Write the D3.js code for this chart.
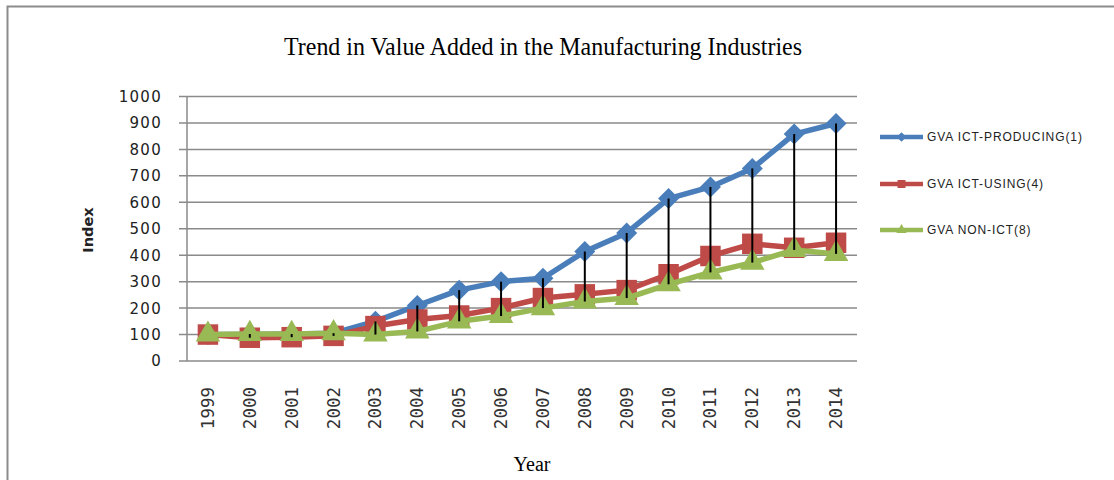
<!DOCTYPE html>
<html><head><meta charset="utf-8">
<script src="https://cdn.jsdelivr.net/npm/d3@7"></script>
<style>body{margin:0;background:#fff;}svg{display:block;}</style>
</head><body>
<svg id="chart" width="1114" height="480"></svg>
<script>
const years = ["1999","2000","2001","2002","2003","2004","2005","2006","2007","2008","2009","2010","2011","2012","2013","2014"];
const ictProducing = [100, 100, 102, 105, 150, 210, 268, 300, 313, 414, 484, 614, 658, 728, 858, 898];
const ictUsing     = [100,  88,  90,  95, 132, 157, 172, 200, 238, 252, 268, 328, 397, 443, 428, 447];
const nonIct       = [100, 102, 102, 105, 100, 112, 150, 170, 200, 225, 238, 290, 335, 372, 420, 405];
const seriesNames = ["GVA ICT-PRODUCING(1)", "GVA ICT-USING(4)", "GVA NON-ICT(8)"];
const yTicks = [0,100,200,300,400,500,600,700,800,900,1000];

(function(){
const colors = ["#4A7EBB", "#BE4B48", "#98B954"];
const symbols = [d3.symbolSquare, d3.symbolSquare, d3.symbolTriangle];
const rotations = [45, 0, 0];
const sizes = [220, 420, 260];
const series = [ictProducing, ictUsing, nonIct];

const svg = d3.select("#chart");
svg.append("path").attr("d","M7.5,480 V6.5 H1114").attr("fill","none").attr("stroke","#8c8c8c").attr("stroke-width",2);

const pL = 187, pR = 857, pT = 96.5, pB = 361;
const x = d3.scaleBand().domain(years).range([pL, pR]);
const y = d3.scaleLinear().domain([0, 1000]).range([pB, pT]);
const cx = d => x(d) + x.bandwidth()/2;

svg.append("g").selectAll("line").data(yTicks).join("line")
  .attr("x1", pL - 8).attr("x2", pR)
  .attr("y1", d => y(d)).attr("y2", d => y(d))
  .attr("stroke", "#8a8a8a").attr("stroke-width", 1.5);
svg.append("line").attr("x1", pL).attr("x2", pL).attr("y1", pT).attr("y2", pB)
  .attr("stroke", "#8a8a8a").attr("stroke-width", 1.5);

svg.append("g").selectAll("text").data(yTicks).join("text")
  .attr("x", 162).attr("y", d => y(d)).attr("dy", "0.36em")
  .attr("text-anchor", "end")
  .attr("font-family", "DejaVu Sans").attr("font-size", 15).attr("letter-spacing", 1.3)
  .attr("fill", "#222").text(d => d);

svg.append("g").selectAll("text").data(years).join("text")
  .attr("transform", d => `translate(${cx(d)+6},387) rotate(-90)`)
  .attr("text-anchor", "end")
  .attr("font-family", "DejaVu Sans Mono").attr("font-size", 17.5)
  .attr("fill", "#333").text(d => d);

const line = d3.line().x((d,i) => cx(years[i])).y(d => y(d));
series.forEach((s, k) => {
  svg.append("path").datum(s).attr("d", line).attr("fill", "none")
    .attr("stroke", colors[k]).attr("stroke-width", 5.5).attr("stroke-linejoin", "round");
  svg.append("g").selectAll("path").data(s).join("path")
    .attr("transform", (d,i) => `translate(${cx(years[i])},${y(d)}) rotate(${rotations[k]})`)
    .attr("d", d3.symbol().type(symbols[k]).size(sizes[k]))
    .attr("fill", colors[k]);
});

svg.append("g").selectAll("line").data(years).join("line")
  .attr("x1", d => cx(d)).attr("x2", d => cx(d))
  .attr("y1", (d,i) => y(Math.max(ictProducing[i], ictUsing[i], nonIct[i])))
  .attr("y2", (d,i) => y(Math.min(ictProducing[i], ictUsing[i], nonIct[i])))
  .attr("stroke", "#000").attr("stroke-width", 2);

const legY = [137, 184, 230];
seriesNames.forEach((n, k) => {
  svg.append("line").attr("x1", 880).attr("x2", 923).attr("y1", legY[k]).attr("y2", legY[k])
    .attr("stroke", colors[k]).attr("stroke-width", 4.5);
  svg.append("path").attr("transform", `translate(901.5,${legY[k]}) rotate(${rotations[k]})`)
    .attr("d", d3.symbol().type(symbols[k]).size(k===1?64:45)).attr("fill", colors[k]);
  svg.append("text").attr("x", 927).attr("y", legY[k]).attr("dy", "0.36em")
    .attr("font-family", "Liberation Sans").attr("font-size", 12).attr("letter-spacing", 0.9)
    .attr("fill", "#222").text(n);
});

svg.append("text").attr("x", 543).attr("y", 55).attr("text-anchor", "middle")
  .attr("font-family", "Liberation Serif").attr("font-size", 25).attr("fill", "#000")
  .attr("textLength", 518).attr("lengthAdjust", "spacingAndGlyphs")
  .text("Trend in Value Added in the Manufacturing Industries");
svg.append("text").attr("x", 532).attr("y", 471).attr("text-anchor", "middle")
  .attr("font-family", "Liberation Serif").attr("font-size", 20).attr("fill", "#000").text("Year");
svg.append("text").attr("transform", "translate(93,230) rotate(-90)").attr("text-anchor", "middle")
  .attr("font-family", "DejaVu Sans").attr("font-weight", "bold").attr("font-size", 14.5).attr("fill", "#222").text("Index");
})();
</script>
</body></html>
